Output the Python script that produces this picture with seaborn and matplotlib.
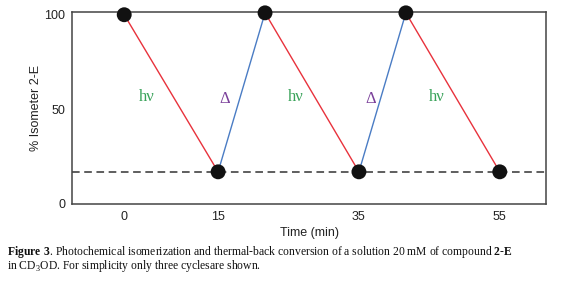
import matplotlib
matplotlib.use('Agg')
import matplotlib.pyplot as plt
import pandas as pd
import seaborn as sns

# Data: x is the plot position (step units), labels are the printed minutes
step = [0, 2, 3, 5, 6, 8]
percent = [100, 17, 101, 17, 101, 17]
tick_step = [0, 2, 5, 8]
tick_labels = ['0', '15', '35', '55']
baseline = 16.7

# annotation labels (hv = light, Delta = heat)
label_text = ['h\u03bd', '\u0394', 'h\u03bd', '\u0394', 'h\u03bd']
label_x = [0.48, 2.14, 3.65, 5.25, 6.65]
label_y = [56.5, 55.5, 56.5, 55.5, 56.5]
label_color = ['#3aa35a', '#7a3f9a', '#3aa35a', '#7a3f9a', '#3aa35a']

sns.set_style('white')
plt.rcParams['font.family'] = ['Liberation Sans', 'DejaVu Sans']
plt.rcParams['mathtext.fontset'] = 'custom'
plt.rcParams['mathtext.rm'] = 'Liberation Serif'
plt.rcParams['mathtext.bf'] = 'Liberation Serif:bold'

# Build segment table: each leg of the cycle drawn as its own line
rows = []
for i in range(len(step) - 1):
    kind = 'hv' if percent[i] > percent[i + 1] else 'heat'
    rows.append({'leg': i, 'x': step[i], 'y': percent[i], 'kind': kind})
    rows.append({'leg': i, 'x': step[i + 1], 'y': percent[i + 1], 'kind': kind})
df = pd.DataFrame(rows)

fig = plt.figure(figsize=(5.75, 2.91), dpi=100)
ax = fig.add_axes([72.3 / 575, 1 - 204 / 291, (546 - 72.3) / 575, (204 - 11.7) / 291])

ax.axhline(baseline, color='#333333', linestyle=(0, (5, 3)), linewidth=1.1, zorder=1)
sns.lineplot(
    data=df, x='x', y='y', units='leg', hue='kind', estimator=None,
    palette={'hv': '#e8323c', 'heat': '#4a7cc4'},
    linewidth=1.0, legend=False, ax=ax, zorder=2
)
sns.scatterplot(x=step, y=percent, color='#111111', s=115, edgecolor='none', ax=ax, zorder=3, clip_on=False)

for t, x, y, c in zip(label_text, label_x, label_y, label_color):
    ax.text(x, y, t, color=c, fontsize=12, family='Liberation Serif', ha='center', va='center')

ax.set_xlim(-1.106, 8.985)
ax.set_ylim(0, 101.6)
ax.set_xticks(tick_step)
ax.set_xticklabels(tick_labels)
ax.set_yticks([0, 50, 100])
ax.tick_params(axis='both', length=0, labelsize=9, colors='#222222', pad=5)
ax.set_xlabel('Time (min)', fontsize=9, color='#222222', labelpad=3)
ax.set_ylabel('% Isometer 2-E', fontsize=9, color='#222222', labelpad=2)
for s in ax.spines.values():
    s.set_color('#444444')
    s.set_linewidth(1.1)

fig.text(7 / 575, 1 - 252 / 291,
         r'$\mathbf{Figure\ 3}$. Photochemical isomerization and thermal-back conversion of a solution 20 mM of compound $\mathbf{2\text{-}E}$',
         fontsize=8.4, family='Liberation Serif', va='center', ha='left', color='#111111')
fig.text(7 / 575, 1 - 266.5 / 291,
         r'in CD$_3$OD. For simplicity only three cyclesare shown.',
         fontsize=8.4, family='Liberation Serif', va='center', ha='left', color='#111111')

fig.savefig('out.png', dpi=100)
